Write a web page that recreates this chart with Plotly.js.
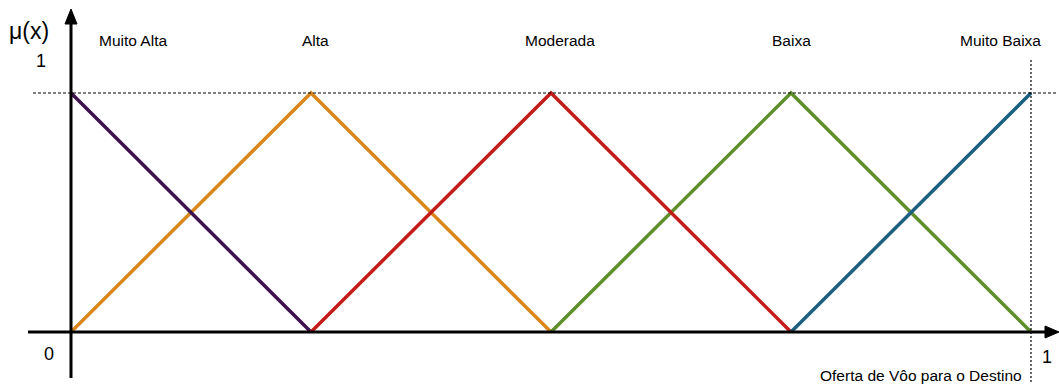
<!DOCTYPE html>
<html>
<head>
<meta charset="utf-8">
<script src="https://cdn.plot.ly/plotly-3.0.1.min.js"></script>
<style>
  html, body { margin: 0; padding: 0; background: #fff; }
  #graph { width: 1059px; height: 385px; }
</style>
</head>
<body>
<div id="graph"></div>
<script>
// membership functions, x in [0,1]
var names = ['Muito Alta', 'Alta', 'Moderada', 'Baixa', 'Muito Baixa'];
var colors = ['#3e1150', '#d9861a', '#c31d19', '#5f8f2b', '#1d5f80'];
var xs = [
  [0, 0.25],
  [0, 0.25, 0.5],
  [0.25, 0.5, 0.75],
  [0.5, 0.75, 1],
  [0.75, 1]
];
var ys = [
  [1, 0],
  [0, 1, 0],
  [0, 1, 0],
  [0, 1, 0],
  [0, 1]
];
var labelX = [0.065, 0.255, 0.509, 0.751, 0.968];

// pixel -> data helpers (x=0 at 71px, x=1 at 1031px; y=0 at 332px, y=1 at 93px)
function px(p) { return (p - 71) / 960; }
function py(p) { return (332 - p) / 239; }

var data = [];
// draw order so purple/red sit on top like the reference
[1, 0, 3, 2, 4].forEach(function (i) {
  data.push({
    x: xs[i], y: ys[i], mode: 'lines', type: 'scatter',
    name: names[i], line: {color: colors[i], width: 3.5}, hoverinfo: 'skip'
  });
});

var font = {family: 'Liberation Sans, Arial, sans-serif', color: '#000'};
var annotations = names.map(function (n, i) {
  return {x: labelX[i], y: py(40), text: n, showarrow: false,
    xanchor: 'center', yanchor: 'middle', font: Object.assign({size: 15.5}, font)};
});
annotations.push(
  {x: px(29), y: py(31), text: 'μ(x)', showarrow: false, xanchor: 'center', yanchor: 'middle', font: Object.assign({size: 23}, font)},
  {x: px(41), y: py(61), text: '1', showarrow: false, xanchor: 'center', yanchor: 'middle', font: Object.assign({size: 18}, font)},
  {x: px(49), y: py(354), text: '0', showarrow: false, xanchor: 'center', yanchor: 'middle', font: Object.assign({size: 18}, font)},
  {x: px(1047), y: py(357), text: '1', showarrow: false, xanchor: 'center', yanchor: 'middle', font: Object.assign({size: 18}, font)},
  {x: px(1024), y: py(375), text: 'Oferta de Vôo para o Destino', showarrow: false, xanchor: 'right', yanchor: 'middle', font: Object.assign({size: 15.5}, font)}
);

var shapes = [
  // dotted guides
  {type: 'line', x0: px(33), x1: px(1058), y0: 1, y1: 1, line: {color: '#000', width: 1.2, dash: '3px,2px'}},
  {type: 'line', x0: 1, x1: 1, y0: py(60), y1: py(382), line: {color: '#000', width: 1.2, dash: '2px,2px'}},
  // axes
  {type: 'line', x0: 0, x1: 0, y0: py(378), y1: py(20), line: {color: '#000', width: 3}},
  {type: 'line', x0: px(28), x1: px(1048), y0: 0, y1: 0, line: {color: '#000', width: 3}},
  // arrow heads
  {type: 'path', path: 'M ' + px(65) + ' ' + py(24) + ' L ' + px(71) + ' ' + py(9) + ' L ' + px(77) + ' ' + py(24) + ' Z',
    fillcolor: '#000', line: {color: '#000', width: 1}},
  {type: 'path', path: 'M ' + px(1045) + ' ' + py(326) + ' L ' + px(1059) + ' ' + py(332) + ' L ' + px(1045) + ' ' + py(338) + ' Z',
    fillcolor: '#000', line: {color: '#000', width: 1}}
];

var layout = {
  width: 1059, height: 385,
  margin: {l: 0, r: 0, t: 0, b: 0},
  paper_bgcolor: '#fff', plot_bgcolor: '#fff',
  showlegend: false,
  xaxis: {range: [px(0), px(1059)], visible: false, fixedrange: true},
  yaxis: {range: [py(385), py(0)], visible: false, fixedrange: true},
  shapes: shapes,
  annotations: annotations
};

Plotly.newPlot('graph', data, layout, {displayModeBar: false, staticPlot: true});
</script>
</body>
</html>
